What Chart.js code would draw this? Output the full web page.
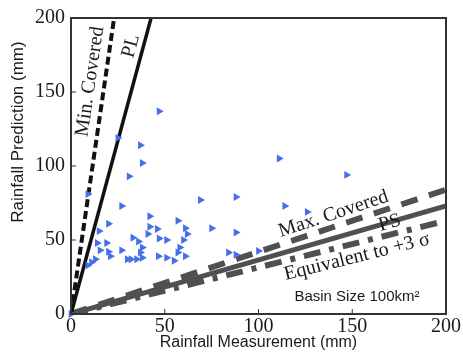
<!DOCTYPE html>
<html>
<head>
<meta charset="utf-8">
<script src="https://cdn.jsdelivr.net/npm/chart.js@4"></script>
<style>
  html, body { margin: 0; padding: 0; background: #fff; }
  #wrap { width: 463px; height: 360px; }
</style>
</head>
<body>
<div id="wrap"><canvas id="c"></canvas></div>
<script>
// rainfall measured vs predicted, basin size 100 km2

const measured = [0, 47, 25, 37, 38, 31, 111, 147, 9, 27, 69, 88, 114, 126, 42, 20, 15, 42, 46,
  41, 47, 57, 61, 62, 75, 88, 14, 19, 20, 15.5, 21, 27, 33, 36, 38, 37, 32, 35, 38, 30, 51,
  46.6, 51, 55, 58, 57, 61, 60, 13, 11, 9, 84, 88, 100];
const predicted = [0, 137, 119, 114, 102, 93, 105, 94, 81, 73, 77, 79, 73, 69, 66, 61, 56, 59, 57.5,
  54, 51, 63, 58, 54, 58, 55, 48, 48, 42, 43, 39, 43, 51.5, 49, 45, 41.5, 37, 37, 38, 37, 50,
  39, 38, 36, 45, 41.5, 39, 50, 37, 35, 33, 41.5, 40, 42.5];

// reference lines, every one starts at the origin
const lineNames = ["Min. Covered", "PL", "Max. Covered", "PS", "Equivalent to +3 \u03c3"];
const lineEndX = [23, 42.7, 200, 200, 200];
const lineEndY = [200, 200, 84, 73, 63];

const tickValues = [0, 50, 100, 150, 200];

// where each line's name sits (data coords) and how it is drawn
const labelSpots = [[10.2, 157], [32, 181], [140, 67.5], [170, 61.5], [152.5, 38.5]];
const lineStyles = [
  { color: "#111", width: 4, dash: [8, 4] },
  { color: "#111", width: 3.5, dash: [] },
  { color: "#505050", width: 6, dash: [17, 12] },
  { color: "#505050", width: 5, dash: [] },
  { color: "#505050", width: 6, dash: [17, 9, 5, 9] }
];

const serif = '"Liberation Serif", "Times New Roman", serif';
const sans = '"Liberation Sans", Arial, sans-serif';

const datasets = [{
  type: "scatter",
  data: measured.map((m, i) => ({ x: m, y: predicted[i] })),
  pointStyle: "triangle",
  rotation: 90,
  pointRadius: 4.6,
  borderWidth: 0,
  backgroundColor: "rgb(70, 112, 232)",
  clip: false
}];

lineNames.forEach((name, i) => {
  const s = lineStyles[i];
  datasets.push({
    type: "line",
    label: name,
    data: [{ x: 0, y: 0 }, { x: lineEndX[i], y: lineEndY[i] }],
    borderColor: s.color,
    borderWidth: s.width,
    borderDash: s.dash,
    borderCapStyle: "butt",
    pointRadius: 0,
    fill: false
  });
});

const extras = {
  id: "extras",
  afterDatasetsDraw(chart) {
    const { ctx, chartArea: a, scales: { x, y } } = chart;
    ctx.save();

    // box round the plot
    ctx.strokeStyle = "#333";
    ctx.lineWidth = 2;
    ctx.strokeRect(a.left, a.top, a.right - a.left, a.bottom - a.top);

    // short ticks pointing inwards
    ctx.lineWidth = 1;
    ctx.beginPath();
    for (const v of tickValues) {
      const px = x.getPixelForValue(v), py = y.getPixelForValue(v);
      ctx.moveTo(px, a.bottom); ctx.lineTo(px, a.bottom - 5);
      ctx.moveTo(a.left, py); ctx.lineTo(a.left + 5, py);
    }
    ctx.stroke();

    // names along the lines
    ctx.fillStyle = "#1a1a1a";
    ctx.font = "20px " + serif;
    ctx.textAlign = "center";
    ctx.textBaseline = "middle";
    lineNames.forEach((name, i) => {
      const x0 = x.getPixelForValue(0), y0 = y.getPixelForValue(0);
      const x1 = x.getPixelForValue(lineEndX[i]), y1 = y.getPixelForValue(lineEndY[i]);
      const ang = Math.atan2(y1 - y0, x1 - x0);
      ctx.save();
      ctx.translate(x.getPixelForValue(labelSpots[i][0]), y.getPixelForValue(labelSpots[i][1]));
      ctx.rotate(ang);
      ctx.fillText(name, 0, 0);
      ctx.restore();
    });

    ctx.font = "15px " + sans;
    ctx.fillText("Basin Size 100km\u00b2", x.getPixelForValue(152.5), y.getPixelForValue(11.5));

    // y title sits a bit above the middle in the original
    ctx.save();
    ctx.translate(18, 132);
    ctx.rotate(-Math.PI / 2);
    ctx.font = "17px " + sans;
    ctx.fillText("Rainfall Prediction (mm)", 0, 0);
    ctx.restore();

    ctx.restore();
  }
};

function axis(extra) {
  return Object.assign({
    type: "linear",
    min: 0,
    max: 200,
    afterBuildTicks: s => { s.ticks = tickValues.map(v => ({ value: v })); },
    grid: { drawOnChartArea: false, drawTicks: false },
    border: { display: false },
    ticks: { color: "#1a1a1a", font: { family: serif, size: 20 } }
  }, extra);
}

new Chart(document.getElementById("c"), {
  type: "scatter",
  data: { datasets },
  plugins: [extras],
  options: {
    responsive: true,
    maintainAspectRatio: false,
    animation: false,
    layout: { padding: { left: 0, right: 17, top: 14, bottom: 0 } },
    plugins: { legend: { display: false }, tooltip: { enabled: false } },
    scales: {
      x: axis({
        afterFit: s => { s.height = 46; },
        ticks: { color: "#1a1a1a", padding: 1, font: { family: serif, size: 20 } },
        title: {
          display: true,
          text: "Rainfall Measurement (mm)",
          color: "#1a1a1a",
          font: { family: sans, size: 16 },
          padding: { top: 0, bottom: 8 }
        }
      }),
      y: axis({
        afterFit: s => { s.width = 71; },
        ticks: { color: "#1a1a1a", padding: 6, font: { family: serif, size: 20 } }
      })
    }
  }
});
</script>
</body>
</html>
